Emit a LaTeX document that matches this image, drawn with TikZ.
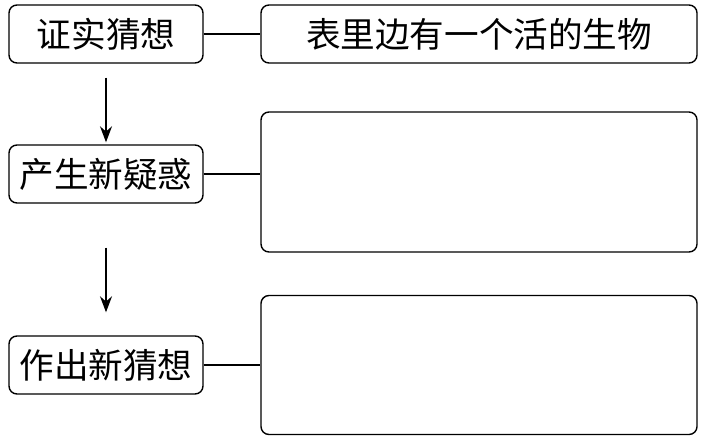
\documentclass[tikz,border=0pt]{standalone}
\usepackage{fontspec}
\setmainfont{Noto Sans CJK SC}
\usetikzlibrary{arrows.meta}

\tikzset{
  stagebox/.style={draw, line width=0.7pt, rounded corners=4pt,
    minimum width=97pt, minimum height=29pt, inner sep=0pt,
    font=\fontsize{17.3pt}{19pt}\selectfont},
  answerbox/.style={draw, line width=0.7pt, rounded corners=4pt,
    minimum width=218pt, inner sep=0pt,
    font=\fontsize{17.3pt}{19pt}\selectfont},
  flowarrow/.style={-{Stealth[length=8pt,width=6pt]}, line width=0.7pt}
}

\begin{document}
\begin{tikzpicture}[x=0.5pt,y=-0.5pt]
        \useasboundingbox (0,0) rectangle (704,439);
        % left column: stages
        \node[stagebox] (confirm) at (106,34) {证实猜想};
        \node[stagebox] (doubt) at (106,174) {产生新疑惑};
        \node[stagebox] (guess) at (106,365) {作出新猜想};
        % right column: answers
        \node[answerbox, minimum height=29pt] (answer1) at (479,34) {表里边有一个活的生物};
        \node[answerbox, minimum height=70pt] (answer2) at (479,182) {};
        \node[answerbox, minimum height=69.5pt] (answer3) at (479,365) {};
        % links
        \draw[line width=0.7pt] (confirm.east) -- (answer1.west);
        \draw[line width=0.7pt] (doubt.east) -- (doubt.east -| answer2.west);
        \draw[line width=0.7pt] (guess.east) -- (answer3.west);
        % downward arrows
        \draw[flowarrow, shorten <=7pt, shorten >=1pt] (confirm.south) -- (doubt.north);
        \draw[flowarrow, shorten <=22pt, shorten >=11.5pt] (doubt.south) -- (guess.north);
    \end{tikzpicture}
\end{document}
